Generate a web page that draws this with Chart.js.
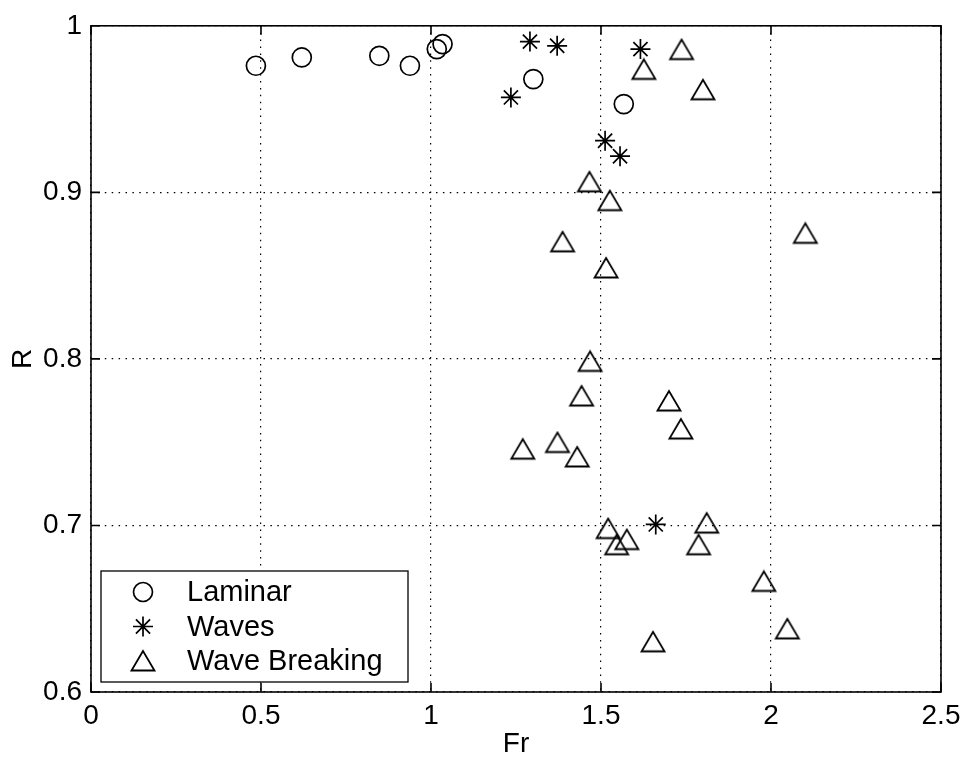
<!DOCTYPE html>
<html>
<head>
<meta charset="utf-8">
<title>R vs Fr</title>
<script src="https://cdn.jsdelivr.net/npm/chart.js@4.4.1/dist/chart.umd.min.js"></script>
<style>
  html, body { margin: 0; padding: 0; background: #fff; }
  #wrap { width: 968px; height: 761px; }
</style>
</head>
<body>
<div id="wrap"><canvas id="chart" width="968" height="761"></canvas></div>
<script>
// data
const laminarFr = [0.485, 0.620, 0.848, 0.938, 1.017, 1.034, 1.301, 1.567];
const laminarR  = [0.976, 0.981, 0.982, 0.976, 0.986, 0.989, 0.968, 0.953];

const wavesFr = [1.235, 1.291, 1.371, 1.512, 1.556, 1.616, 1.661];
const wavesR  = [0.957, 0.9905, 0.988, 0.931, 0.9217, 0.986, 0.7006];

const breakFr = [1.737, 1.626, 1.800, 1.466, 1.526, 2.101, 1.387, 1.515, 1.468,
                 1.443, 1.700, 1.735, 1.270, 1.372, 1.430, 1.521, 1.546, 1.576,
                 1.811, 1.787, 1.979, 2.048, 1.653];
const breakR  = [0.9857, 0.9738, 0.9616, 0.9063, 0.895, 0.8754, 0.8703, 0.8546, 0.7985,
                 0.7777, 0.7747, 0.7579, 0.7458, 0.7498, 0.7411, 0.6981, 0.6884, 0.6915,
                 0.7014, 0.6884, 0.6664, 0.6379, 0.6301];

const seriesNames = ['Laminar', 'Waves', 'Wave Breaking'];
const xTicks = [0, 0.5, 1, 1.5, 2, 2.5];
const xTickLabels = ['0', '0.5', '1', '1.5', '2', '2.5'];
const yTicks = [0.6, 0.7, 0.8, 0.9, 1];
const yTickLabels = ['0.6', '0.7', '0.8', '0.9', '1'];

const FONT = '"Liberation Sans", Arial, Helvetica, sans-serif';

const pts = (xs, ys) => xs.map((x, i) => ({ x: x, y: ys[i] }));

// matlab style '^' marker, centred on its bounding box
function triangleMarker() {
  const c = document.createElement('canvas');
  c.width = 28; c.height = 24;
  const g = c.getContext('2d');
  g.strokeStyle = '#000';
  g.lineWidth = 1.8;
  g.lineJoin = 'miter';
  g.beginPath();
  g.moveTo(14, 2);
  g.lineTo(2.5, 21.5);
  g.lineTo(25.5, 21.5);
  g.closePath();
  g.stroke();
  return c;
}
const tri = triangleMarker();

// box + inward ticks on all four sides
const framePlugin = {
  id: 'frame',
  beforeDatasetsDraw(chart) {
    const { ctx, chartArea: a, scales } = chart;
    const tl = 9;
    ctx.save();
    ctx.strokeStyle = '#000';
    ctx.lineWidth = 1.6;
    ctx.strokeRect(a.left, a.top, a.right - a.left, a.bottom - a.top);
    ctx.beginPath();
    xTicks.forEach(v => {
      const px = scales.x.getPixelForValue(v);
      ctx.moveTo(px, a.bottom); ctx.lineTo(px, a.bottom - tl);
      ctx.moveTo(px, a.top); ctx.lineTo(px, a.top + tl);
    });
    yTicks.forEach(v => {
      const py = scales.y.getPixelForValue(v);
      ctx.moveTo(a.left, py); ctx.lineTo(a.left + tl, py);
      ctx.moveTo(a.right, py); ctx.lineTo(a.right - tl, py);
    });
    ctx.stroke();
    ctx.restore();
  }
};

// legend box inside the lower left corner
const legendPlugin = {
  id: 'boxLegend',
  afterDraw(chart) {
    const { ctx, chartArea: a } = chart;
    const w = 307, h = 111;
    const x0 = a.left + 10, y0 = a.bottom - 10 - h;
    ctx.save();
    ctx.fillStyle = '#fff';
    ctx.fillRect(x0, y0, w, h);
    ctx.strokeStyle = '#000';
    ctx.lineWidth = 1.3;
    ctx.strokeRect(x0, y0, w, h);
    ctx.font = '29px ' + FONT;
    ctx.textBaseline = 'middle';
    chart.data.datasets.forEach((ds, i) => {
      const cy = y0 + 21 + i * 34.5;
      const mx = x0 + 42;
      if (ds.pointStyle instanceof HTMLCanvasElement) {
        ctx.drawImage(ds.pointStyle, mx - ds.pointStyle.width / 2, cy - ds.pointStyle.height / 2);
      } else {
        ctx.fillStyle = 'rgba(0,0,0,0)';
        ctx.strokeStyle = '#000';
        ctx.lineWidth = ds.pointBorderWidth;
        Chart.helpers.drawPoint(ctx, {
          pointStyle: ds.pointStyle, radius: ds.pointRadius,
          borderWidth: ds.pointBorderWidth, rotation: 0
        }, mx, cy);
      }
      ctx.fillStyle = '#000';
      ctx.fillText(ds.label, x0 + 86, cy + 1);
    });
    ctx.restore();
  }
};

new Chart(document.getElementById('chart'), {
  type: 'scatter',
  data: {
    datasets: [
      { label: seriesNames[0], data: pts(laminarFr, laminarR), pointStyle: 'circle',
        pointRadius: 9.5, pointBorderWidth: 1.7, borderColor: '#000', backgroundColor: 'rgba(0,0,0,0)' },
      { label: seriesNames[1], data: pts(wavesFr, wavesR), pointStyle: 'star',
        pointRadius: 10, pointBorderWidth: 1.7, borderColor: '#000', backgroundColor: 'rgba(0,0,0,0)' },
      { label: seriesNames[2], data: pts(breakFr, breakR), pointStyle: tri,
        pointRadius: 12, pointBorderWidth: 1.7, borderColor: '#000', backgroundColor: 'rgba(0,0,0,0)' }
    ]
  },
  options: {
    responsive: false,
    animation: false,
    events: [],
    layout: { padding: { top: 19, right: 27, left: 0, bottom: 0 } },
    plugins: { legend: { display: false }, tooltip: { enabled: false } },
    scales: {
      x: {
        type: 'linear', min: 0, max: 2.5,
        afterBuildTicks: s => { s.ticks = xTicks.map(v => ({ value: v })); },
        afterFit: s => { s.height = 69; },
        ticks: {
          color: '#000', padding: 7, maxRotation: 0,
          font: { family: FONT, size: 28, lineHeight: 1.2 },
          callback: v => xTickLabels[xTicks.indexOf(v)]
        },
        grid: { color: '#000', lineWidth: 1.2, drawTicks: false },
        border: { display: false, dash: [1.5, 5.4] },
        title: { display: true, text: 'Fr', color: '#000',
          font: { family: FONT, size: 28, lineHeight: 1.2 }, padding: { top: 0, bottom: 0 } }
      },
      y: {
        type: 'linear', min: 0.6, max: 1,
        afterBuildTicks: s => { s.ticks = yTicks.map(v => ({ value: v })); },
        afterFit: s => { s.width = 91; },
        ticks: {
          color: '#000', padding: 9,
          font: { family: FONT, size: 28, lineHeight: 1.2 },
          callback: v => yTickLabels[yTicks.indexOf(v)]
        },
        grid: { color: '#000', lineWidth: 1.2, drawTicks: false },
        border: { display: false, dash: [1.5, 5.4] },
        title: { display: true, text: 'R', color: '#000',
          font: { family: FONT, size: 28, lineHeight: 1.2 }, padding: { top: 6, bottom: 0 } }
      }
    }
  },
  plugins: [framePlugin, legendPlugin]
});
</script>
</body>
</html>
